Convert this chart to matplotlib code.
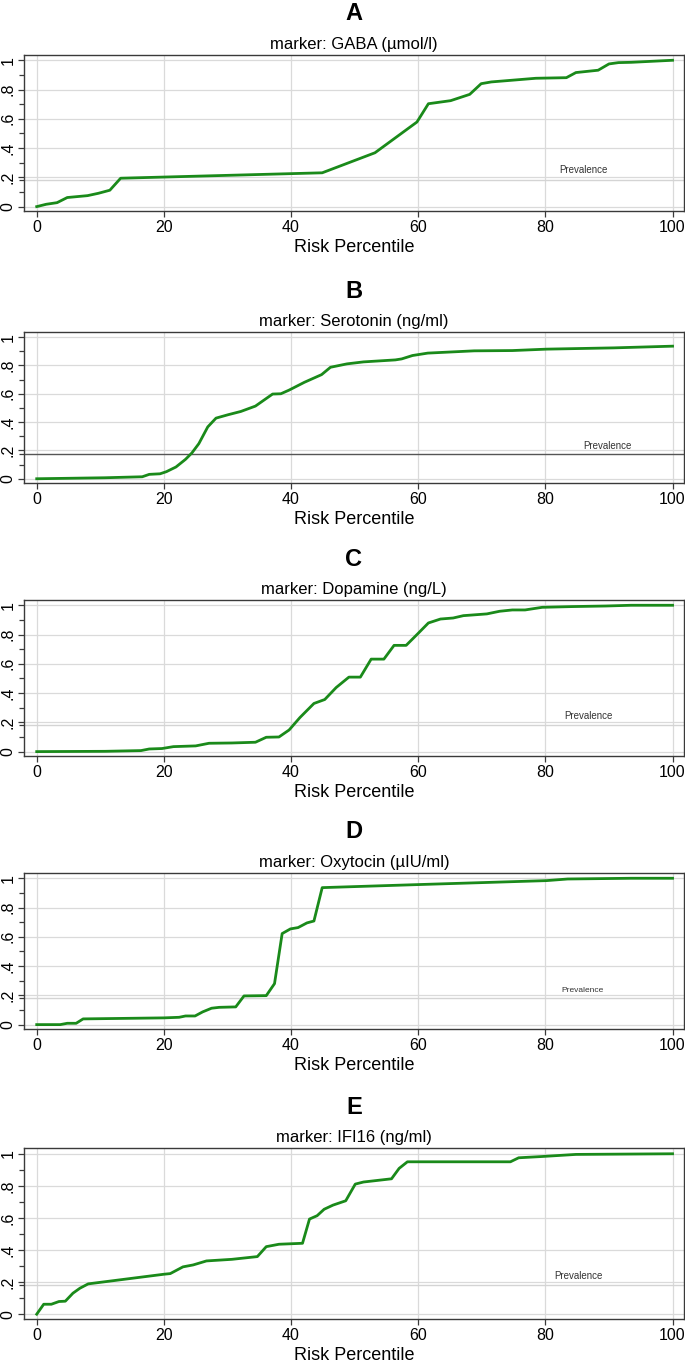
import numpy as np
import matplotlib
matplotlib.use("Agg")
import matplotlib.pyplot as plt

plt.rcParams['font.family'] = ['Liberation Sans Narrow', 'Liberation Sans', 'DejaVu Sans']

# panel letters and subtitles
letters = ["A", "B", "C", "D", "E"]
markers = ["marker: GABA (\u00b5mol/l)", "marker: Serotonin (ng/ml)", "marker: Dopamine (ng/L)",
           "marker: Oxytocin (\u00b5IU/ml)", "marker: IFI16 (ng/ml)"]
prevalence = [0.18, 0.177, 0.18, 0.18, 0.183]

# curves: risk percentile vs predicted risk
gaba_x = [0, 1.5, 3.2, 4.8, 8.0, 9.7, 11.5, 13.2, 44.9, 53.2, 59.8, 61.6, 65.1, 68.1, 69.9, 71.5,
          78.5, 83.3, 84.8, 88.3, 90.0, 91.5, 93.5, 100]
gaba_y = [0, 0.016, 0.027, 0.062, 0.075, 0.091, 0.112, 0.194, 0.231, 0.368, 0.578, 0.703, 0.724,
          0.767, 0.840, 0.852, 0.877, 0.881, 0.916, 0.932, 0.975, 0.984, 0.986, 1.0]

sero_x = [0, 10.7, 16.6, 17.7, 19.4, 20.4, 21.9, 23.4, 24.4, 25.5, 26.9, 28.2, 30.1, 32.1, 34.4,
          37.1, 38.4, 39.7, 42.1, 44.8, 46.2, 48.8, 51.4, 56.4, 57.4, 59.1, 61.5, 68.8, 74.8,
          80.2, 90.8, 100]
sero_y = [0, 0.007, 0.014, 0.031, 0.035, 0.05, 0.083, 0.137, 0.182, 0.248, 0.366, 0.428, 0.452,
          0.475, 0.513, 0.598, 0.600, 0.626, 0.681, 0.735, 0.787, 0.811, 0.825, 0.839, 0.846,
          0.87, 0.887, 0.903, 0.905, 0.915, 0.924, 0.936]

dopa_x = [0, 10.7, 16.4, 17.7, 19.7, 21.5, 25.0, 27.1, 30.7, 34.4, 36.1, 38.1, 39.7, 41.4, 43.6,
          45.3, 47.1, 49.1, 50.9, 52.6, 54.6, 56.2, 58.1, 59.9, 61.6, 63.5, 65.5, 67.1, 70.8,
          72.8, 74.8, 76.8, 79.5, 84.2, 89.5, 93.5, 100]
dopa_y = [0, 0.002, 0.007, 0.018, 0.021, 0.034, 0.039, 0.057, 0.059, 0.064, 0.098, 0.1, 0.148,
          0.233, 0.329, 0.356, 0.438, 0.509, 0.509, 0.632, 0.632, 0.726, 0.726, 0.804, 0.879,
          0.906, 0.913, 0.929, 0.941, 0.959, 0.968, 0.968, 0.986, 0.991, 0.995, 1.0, 1.0]

oxy_x = [0, 3.7, 4.8, 6.2, 7.3, 20.0, 22.4, 23.4, 24.9, 26.1, 27.5, 28.7, 31.3, 32.6, 36.1, 37.4,
         38.6, 39.9, 41.1, 42.5, 43.6, 44.9, 60.1, 80.2, 83.5, 93.5, 100]
oxy_y = [0, 0, 0.009, 0.009, 0.039, 0.046, 0.05, 0.059, 0.059, 0.087, 0.112, 0.118, 0.121, 0.196,
         0.198, 0.280, 0.622, 0.654, 0.663, 0.695, 0.708, 0.936, 0.957, 0.984, 0.995, 1.0, 1.0]

ifi_x = [0, 1.1, 2.3, 3.5, 4.5, 5.7, 6.8, 8.1, 20.0, 21.0, 23.0, 24.6, 26.7, 30.7, 34.7, 36.1,
         38.1, 41.8, 42.9, 44.1, 45.2, 46.6, 48.6, 50.1, 51.4, 55.8, 57.0, 58.3, 74.5, 75.8,
         79.5, 84.8, 100]
ifi_y = [0, 0.062, 0.062, 0.079, 0.081, 0.131, 0.162, 0.189, 0.249, 0.253, 0.295, 0.307, 0.332,
         0.342, 0.359, 0.421, 0.436, 0.442, 0.593, 0.614, 0.654, 0.680, 0.707, 0.811, 0.824,
         0.844, 0.909, 0.950, 0.950, 0.975, 0.983, 0.996, 1.0]

curves = [(gaba_x, gaba_y), (sero_x, sero_y), (dopa_x, dopa_y), (oxy_x, oxy_y), (ifi_x, ifi_y)]

W, H = 685, 1364
fig = plt.figure(figsize=(W / 100, H / 100), dpi=100)

# frame extents in pixels (top, bottom)
frames = [(55, 211), (332, 483), (600, 756), (873, 1029), (1148, 1319)]
left_px, right_px = 24, 684
prev_text = [(86, 0.247, 7), (89.8, 0.232, 7), (86.7, 0.242, 7), (85.8, 0.235, 6), (85.2, 0.241, 7)]
prev_col = ["#d4d4d4", "#555555", "#d4d4d4", "#d4d4d4", "#d4d4d4"]

green = "#1a8a1a"
frame_col = "#3a3a3a"

for i in range(5):
    top, bot = frames[i]
    ax = fig.add_axes([left_px / W, 1 - bot / H, (right_px - left_px) / W, (bot - top) / H])
    ax.set_xlim(-2.0, 101.8)
    ax.set_ylim(-0.03, 1.036)

    ax.set_xticks([0, 20, 40, 60, 80, 100])
    ax.set_yticks([0, 0.2, 0.4, 0.6, 0.8, 1.0])
    ax.set_yticklabels(["0", ".2", ".4", ".6", ".8", "1"], rotation=90, va="center")
    ax.set_yticks([0.1, prevalence[i], 0.3, 0.5, 0.7, 0.9], minor=True)
    ax.tick_params(axis="both", which="major", length=4.5, width=0.9, color=frame_col,
                   labelsize=11.5, pad=2)
    ax.tick_params(axis="y", which="minor", length=3.5, width=0.9, color=frame_col)
    ax.tick_params(axis="y", which="major", pad=1.5)

    ax.grid(True, which="major", color="#dadada", linewidth=0.9)
    ax.set_axisbelow(True)

    ax.axhline(prevalence[i], color=prev_col[i], linewidth=1.0, zorder=1.5)
    tx, ty, ts = prev_text[i]
    ax.text(tx, ty, "Prevalence", fontsize=ts, ha="center", va="center", color="#333333")

    cx, cy = curves[i]
    ax.plot(cx, cy, color=green, linewidth=2.0, solid_joinstyle="round", zorder=3)

    for s in ax.spines.values():
        s.set_color(frame_col)
        s.set_linewidth(1.0)

    ax.set_xlabel("Risk Percentile", fontsize=13, labelpad=3)
    ax.set_title(markers[i], fontsize=12, pad=4)
    fig.text((left_px + right_px) / 2 / W, 1 - (top - 41) / H, letters[i], fontsize=17,
             fontweight="bold", ha="center", va="center")

fig.savefig("out.png", dpi=100)
